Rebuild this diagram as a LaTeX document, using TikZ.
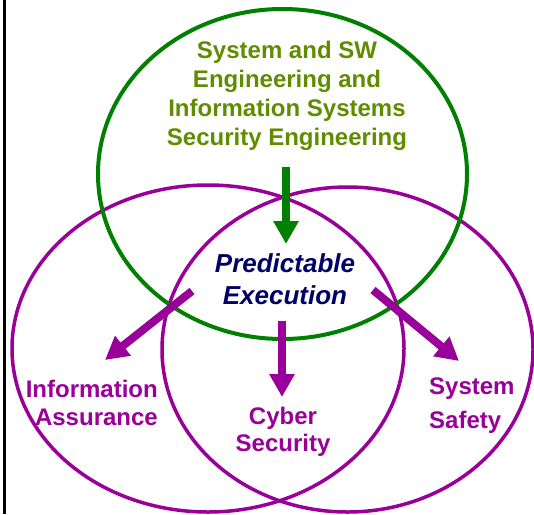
\documentclass[tikz,border=0pt]{standalone}
\usepackage{fontspec}
\setmainfont{Liberation Sans}
\usetikzlibrary{arrows.meta}
\definecolor{gline}{RGB}{0,128,0}
\definecolor{gtext}{RGB}{96,140,0}
\definecolor{purp}{RGB}{153,0,153}
\definecolor{navy}{RGB}{0,0,102}
\begin{document}
\begin{tikzpicture}[x=1pt,y=-1pt,
  ring/.style={line width=3.5pt},
  blockarrow/.style={line width=8pt,-{Triangle[length=23pt,width=24pt]}},
  lbl/.style={inner sep=0pt},
]
\useasboundingbox (0,0) rectangle (534,514);
\draw[line width=3pt] (4.5,0) -- (4.5,514);
% circles
\draw[ring,purp] (208,348.5) ellipse [x radius=196, y radius=163.5];
\draw[ring,purp] (347.5,349.5) ellipse [x radius=185.5, y radius=162.5];
\draw[ring,gline,line width=4pt] (282.5,174) ellipse [x radius=184.5, y radius=165];
% labels
\node[lbl,align=center,anchor=north,text=gtext,font=\bfseries\fontsize{24}{29}\selectfont] (se) at (287,41)
  {System and SW\\Engineering and\\Information Systems\\Security Engineering};
\node[lbl,align=center,anchor=north,text=navy,font=\bfseries\itshape\fontsize{26}{32}\selectfont] (pe) at (285,253)
  {Predictable\\Execution};
\node[lbl,align=right,anchor=north east,text=purp,font=\bfseries\fontsize{24}{27.5}\selectfont] (ia) at (158,380)
  {Information\\Assurance};
\node[lbl,align=center,anchor=north,text=purp,font=\bfseries\fontsize{24}{26.5}\selectfont] (cs) at (283,407)
  {Cyber\\Security};
\node[lbl,align=left,anchor=north west,text=purp,font=\bfseries\fontsize{24}{34}\selectfont] (ss) at (429,378)
  {System\\Safety};
% arrows
\coordinate (g1) at (286,167); \coordinate (g2) at (286,244);
\coordinate (d1) at (282,321); \coordinate (d2) at (282,397);
\coordinate (l1) at (192,291); \coordinate (l2) at (105,360);
\coordinate (r1) at (373,290); \coordinate (r2) at (459,361);
\draw[blockarrow,gline] (g1) -- (g2);
\draw[blockarrow,purp] (d1) -- (d2);
\draw[blockarrow,purp] (l1) -- (l2);
\draw[blockarrow,purp] (r1) -- (r2);
\end{tikzpicture}
\end{document}
